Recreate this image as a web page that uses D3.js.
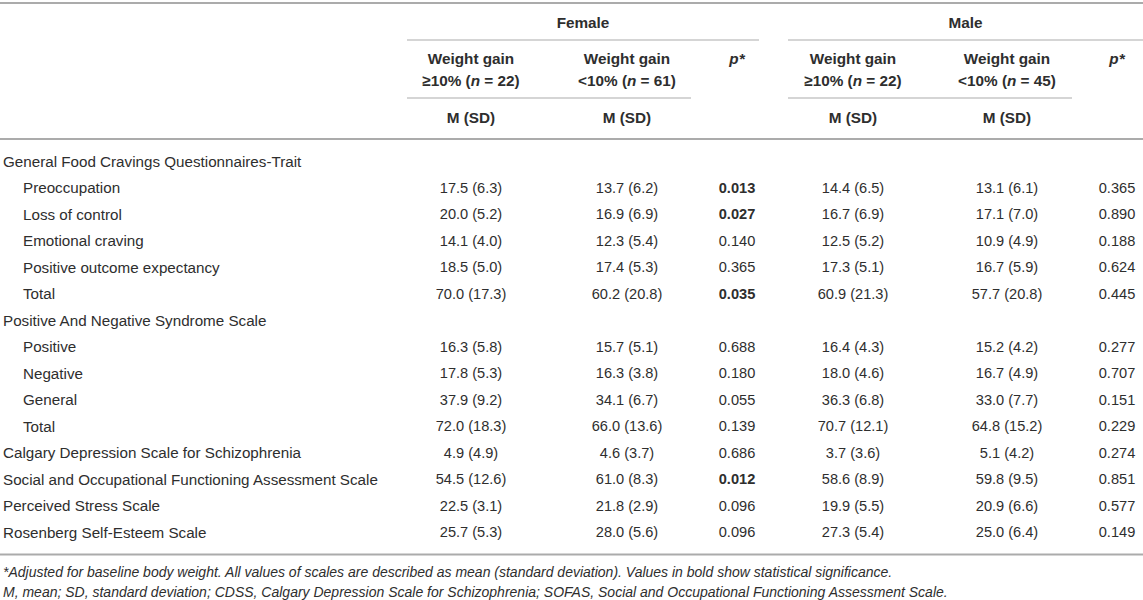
<!DOCTYPE html>
<html>
<head>
<meta charset="utf-8">
<script src="https://cdn.jsdelivr.net/npm/d3@7"></script>
<style>
  body { margin: 0; background: #fff; }
  svg text { font-family: "Liberation Sans", Arial, sans-serif; fill: #2e2e2e; }
</style>
</head>
<body>
<div id="my_table"></div>
<script>
// table content
const rowLabels = [
  "General Food Cravings Questionnaires-Trait",
  "Preoccupation", "Loss of control", "Emotional craving", "Positive outcome expectancy", "Total",
  "Positive And Negative Syndrome Scale",
  "Positive", "Negative", "General", "Total",
  "Calgary Depression Scale for Schizophrenia",
  "Social and Occupational Functioning Assessment Scale",
  "Perceived Stress Scale",
  "Rosenberg Self-Esteem Scale"
];
const rowLevel = [0, 1, 1, 1, 1, 1, 0, 1, 1, 1, 1, 0, 0, 0, 0];

const femaleHigh = ["", "17.5 (6.3)", "20.0 (5.2)", "14.1 (4.0)", "18.5 (5.0)", "70.0 (17.3)", "",
  "16.3 (5.8)", "17.8 (5.3)", "37.9 (9.2)", "72.0 (18.3)", "4.9 (4.9)", "54.5 (12.6)", "22.5 (3.1)", "25.7 (5.3)"];
const femaleLow = ["", "13.7 (6.2)", "16.9 (6.9)", "12.3 (5.4)", "17.4 (5.3)", "60.2 (20.8)", "",
  "15.7 (5.1)", "16.3 (3.8)", "34.1 (6.7)", "66.0 (13.6)", "4.6 (3.7)", "61.0 (8.3)", "21.8 (2.9)", "28.0 (5.6)"];
const femaleP = ["", "0.013", "0.027", "0.140", "0.365", "0.035", "",
  "0.688", "0.180", "0.055", "0.139", "0.686", "0.012", "0.096", "0.096"];
const maleHigh = ["", "14.4 (6.5)", "16.7 (6.9)", "12.5 (5.2)", "17.3 (5.1)", "60.9 (21.3)", "",
  "16.4 (4.3)", "18.0 (4.6)", "36.3 (6.8)", "70.7 (12.1)", "3.7 (3.6)", "58.6 (8.9)", "19.9 (5.5)", "27.3 (5.4)"];
const maleLow = ["", "13.1 (6.1)", "17.1 (7.0)", "10.9 (4.9)", "16.7 (5.9)", "57.7 (20.8)", "",
  "15.2 (4.2)", "16.7 (4.9)", "33.0 (7.7)", "64.8 (15.2)", "5.1 (4.2)", "59.8 (9.5)", "20.9 (6.6)", "25.0 (6.4)"];
const maleP = ["", "0.365", "0.890", "0.188", "0.624", "0.445", "",
  "0.277", "0.707", "0.151", "0.229", "0.274", "0.851", "0.577", "0.149"];

const groups = ["Female", "Male"];
const subHeads = [["Weight gain", "\u226510% (", "n", " = 22)"], ["Weight gain", "<10% (", "n", " = 61)"],
                  ["Weight gain", "\u226510% (", "n", " = 22)"], ["Weight gain", "<10% (", "n", " = 45)"]];
const footnotes = [
  "*Adjusted for baseline body weight. All values of scales are described as mean (standard deviation). Values in bold show statistical significance.",
  "M, mean; SD, standard deviation; CDSS, Calgary Depression Scale for Schizophrenia; SOFAS, Social and Occupational Functioning Assessment Scale."
];

const width = 1143, height = 600;
const labelSize = 15.2, valueSize = 14.6, headSize = 15.3, noteSize = 14;

const svg = d3.select("#my_table")
  .append("svg")
  .attr("width", width)
  .attr("height", height);

// column centres
const colKeys = ["fh", "fl", "fp", "mh", "ml", "mp"];
const x = d3.scaleOrdinal()
  .domain(colKeys)
  .range([471, 627, 737, 853, 1007, 1117]);

// row positions
const y = d3.scaleBand()
  .domain(d3.range(rowLabels.length))
  .range([148, 148 + 26.5 * rowLabels.length]);

const lineColor = "#ababab";
function hline(x1, x2, yy, w) {
  svg.append("line")
    .attr("x1", x1).attr("x2", x2)
    .attr("y1", yy).attr("y2", yy)
    .attr("stroke", lineColor)
    .attr("stroke-width", w);
}

// rules
hline(0, width, 3, 2);
hline(407, 759, 40, 1.2);
hline(788, width, 40, 1.2);
hline(407, 691, 98, 1.2);
hline(788, 1072, 98, 1.2);
hline(0, width, 139, 2);
const bottomRule = y(rowLabels.length - 1) + y.bandwidth() + 9;
hline(0, width, bottomRule, 2);

// group headers
svg.selectAll(".grp")
  .data(groups)
  .join("text")
  .attr("x", (d, i) => i == 0 ? (407 + 759) / 2 : (788 + width) / 2)
  .attr("y", 23)
  .attr("dy", "0.35em")
  .attr("text-anchor", "middle")
  .attr("font-size", headSize)
  .attr("font-weight", "bold")
  .text(d => d);

// sub headers
const subCols = ["fh", "fl", "mh", "ml"];
subHeads.forEach(function (h, i) {
  svg.append("text")
    .attr("x", x(subCols[i])).attr("y", 59).attr("dy", "0.35em")
    .attr("text-anchor", "middle").attr("font-size", headSize).attr("font-weight", "bold")
    .text(h[0]);
  const t = svg.append("text")
    .attr("x", x(subCols[i])).attr("y", 81).attr("dy", "0.35em")
    .attr("text-anchor", "middle").attr("font-size", headSize).attr("font-weight", "bold");
  t.append("tspan").text(h[1]);
  t.append("tspan").attr("font-style", "italic").text(h[2]);
  t.append("tspan").text(h[3]);
  svg.append("text")
    .attr("x", x(subCols[i])).attr("y", 118).attr("dy", "0.35em")
    .attr("text-anchor", "middle").attr("font-size", headSize).attr("font-weight", "bold")
    .text("M (SD)");
});
["fp", "mp"].forEach(function (k) {
  svg.append("text")
    .attr("x", x(k)).attr("y", 59).attr("dy", "0.35em")
    .attr("text-anchor", "middle").attr("font-size", headSize).attr("font-weight", "bold")
    .attr("font-style", "italic")
    .text("p*");
});

// row labels
svg.selectAll(".lab")
  .data(rowLabels)
  .join("text")
  .attr("x", (d, i) => rowLevel[i] == 0 ? 3 : 23)
  .attr("y", (d, i) => y(i) + y.bandwidth() / 2)
  .attr("dy", "0.35em")
  .attr("font-size", labelSize)
  .text(d => d);

// value cells
const cols = [["fh", femaleHigh], ["fl", femaleLow], ["fp", femaleP],
              ["mh", maleHigh], ["ml", maleLow], ["mp", maleP]];
cols.forEach(function (c) {
  const isP = c[0].endsWith("p");
  svg.append("g")
    .selectAll("text")
    .data(c[1])
    .join("text")
    .attr("x", x(c[0]))
    .attr("y", (d, i) => y(i) + y.bandwidth() / 2)
    .attr("dy", "0.35em")
    .attr("text-anchor", "middle")
    .attr("font-size", valueSize)
    .attr("font-weight", d => isP && d !== "" && +d < 0.05 ? "bold" : "normal")
    .text(d => d);
});

// footnotes
svg.selectAll(".fn")
  .data(footnotes)
  .join("text")
  .attr("x", 3)
  .attr("y", (d, i) => bottomRule + 18 + i * 20)
  .attr("dy", "0.35em")
  .attr("font-size", noteSize)
  .attr("font-style", "italic")
  .text(d => d);
</script>
</body>
</html>
